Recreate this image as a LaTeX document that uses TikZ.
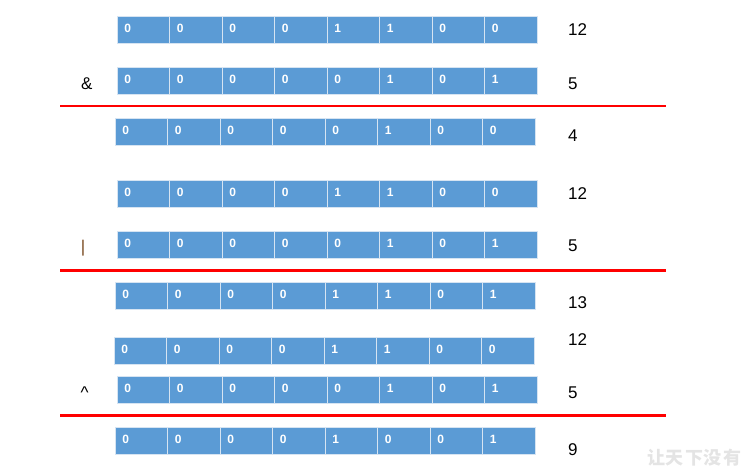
\documentclass[tikz,border=0pt]{standalone}
\usepackage{fontspec}
\setmainfont{Liberation Sans}
\setsansfont{Liberation Sans}
\newfontfamily\cjk{Noto Sans CJK SC}
\definecolor{cellblue}{RGB}{91,155,213}
\definecolor{cellline}{RGB}{214,228,242}
\definecolor{rulered}{RGB}{255,0,0}
\definecolor{barbrown}{RGB}{120,72,30}
\definecolor{wmgray}{RGB}{228,228,228}
\tikzset{
  cell/.style={rectangle, draw=cellline, line width=0.8pt, fill=cellblue,
    minimum width=52.5pt, minimum height=27pt, text width=38pt, inner xsep=7pt,
    inner ysep=0pt, align=left, text height=8.6pt, text depth=3pt, text=white,
    font=\fontsize{12}{12}\selectfont\bfseries},
  numlabel/.style={anchor=base west, inner sep=0pt, font=\fontsize{17}{18}\selectfont},
  oplabel/.style={anchor=base west, inner sep=0pt, font=\fontsize{17}{18}\selectfont},
  redrule/.style={draw=rulered, line width=2.4pt}
}
\newcommand{\bitrow}[4]{% name, left, top, bits
  \foreach \b [count=\i] in {#4} {
    \node[cell] (#1c\i) at ({#2+(\i-0.5)*52.5}, {#3+13.5}) {\b};
  }
}
\begin{document}
\begin{tikzpicture}[x=1pt, y=-1pt]
\useasboundingbox (0,0) rectangle (745,469);

% AND block
\bitrow{ra}{117}{16}{0,0,0,0,1,1,0,0}
\bitrow{rb}{117}{67}{0,0,0,0,0,1,0,1}
\bitrow{rc}{115}{118}{0,0,0,0,0,1,0,0}
\node[numlabel] (na) at (568,35.7) {12};
\node[numlabel] (nb) at (568,89) {5};
\node[numlabel] (nc) at (568,141) {4};
\node[oplabel] (opa) at (81,89.3) {\&};
\coordinate (la1) at (60,106);
\coordinate (la2) at (666,106);
\draw[redrule] (la1) -- (la2);

% OR block
\bitrow{rd}{117}{180}{0,0,0,0,1,1,0,0}
\bitrow{re}{117}{231}{0,0,0,0,0,1,0,1}
\bitrow{rf}{115}{282}{0,0,0,0,1,1,0,1}
\node[numlabel] (nd) at (568,199) {12};
\node[numlabel] (ne) at (568,251) {5};
\node[numlabel] (nf) at (568,308) {13};
\node[inner sep=0pt, text=barbrown, font=\fontsize{17}{18}\selectfont] (opb) at (83,248) {|};
\coordinate (lb1) at (60,270);
\coordinate (lb2) at (666,270);
\draw[redrule, line width=3pt] (lb1) -- (lb2);

% XOR block
\bitrow{rg}{114}{337}{0,0,0,0,1,1,0,0}
\bitrow{rh}{117}{376}{0,0,0,0,0,1,0,1}
\bitrow{ri}{115}{427}{0,0,0,0,1,0,0,1}
\node[numlabel] (ng) at (568,345) {12};
\node[numlabel] (nh) at (568,398) {5};
\node[numlabel] (ni) at (568,455) {9};
\node[oplabel] (opc) at (80.5,398) {\textasciicircum};
\coordinate (lc1) at (60,415.5);
\coordinate (lc2) at (666,415.5);
\draw[redrule] (lc1) -- (lc2);

% watermark
\node[inner sep=0pt, text=wmgray, font=\cjk\fontsize{18}{19}\selectfont\bfseries] (wm) at (694,458) {让\kern1pt 天\kern1pt 下\kern1pt 没\kern1pt 有};
\end{tikzpicture}
\end{document}
